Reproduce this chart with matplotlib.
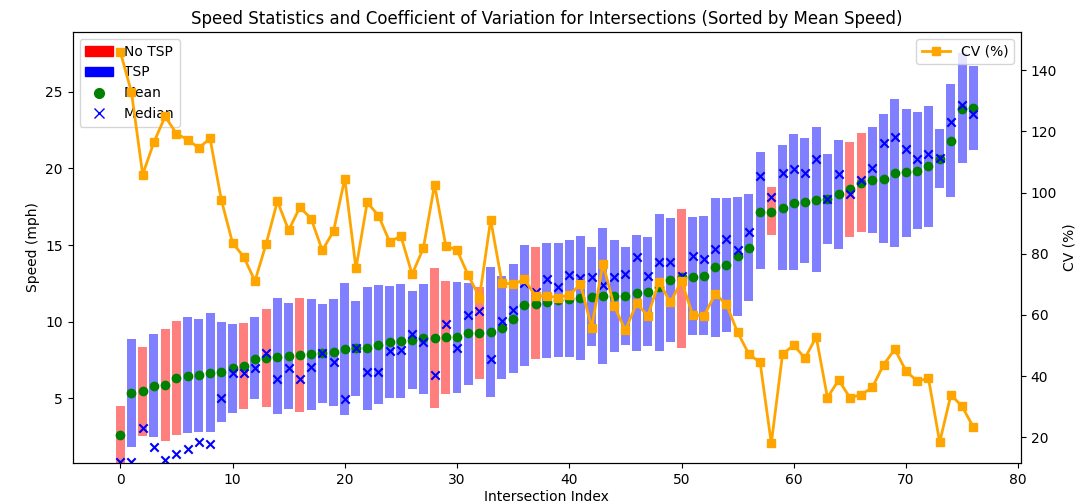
import matplotlib
matplotlib.use("Agg")
import matplotlib.pyplot as plt
from matplotlib.patches import Patch
from matplotlib.lines import Line2D
import numpy as np

# ---- data ----
mean_speed = [2.61, 5.33, 5.48, 5.81, 5.85, 6.31, 6.46, 6.50, 6.67, 6.69,
              7.00, 7.13, 7.59, 7.61, 7.72, 7.76, 7.83, 7.89, 7.94, 8.00,
              8.22, 8.26, 8.30, 8.48, 8.70, 8.74, 8.80, 8.91, 8.91, 8.98,
              8.98, 9.24, 9.28, 9.35, 9.61, 10.18, 11.09, 11.15, 11.27, 11.42,
              11.48, 11.52, 11.63, 11.68, 11.68, 11.68, 11.85, 11.96, 12.28, 12.72,
              12.90, 12.94, 13.00, 13.55, 13.70, 14.29, 14.83, 17.18, 17.18, 17.44,
              17.77, 17.83, 17.94, 18.00, 18.31, 18.64, 19.07, 19.24, 19.31, 19.68,
              19.79, 19.85, 20.16, 20.61, 21.81, 23.87, 23.96]
median_speed = [0.87, 0.87, 3.09, 1.85, 0.98, 1.37, 1.67, 2.17, 2.02, 5.00,
                6.67, 6.67, 6.96, 7.94, 6.24, 6.96, 6.24, 7.02, 7.94, 7.35,
                4.96, 8.30, 6.74, 6.74, 8.11, 8.15, 9.20, 8.70, 6.52, 9.85,
                8.30, 10.44, 10.70, 7.57, 10.05, 10.76, 12.50, 11.96, 12.76, 12.24,
                13.05, 12.87, 12.94, 12.39, 12.94, 13.09, 14.24, 12.98, 13.87, 13.87,
                12.98, 14.31, 14.07, 14.72, 15.39, 14.68, 15.83, 19.53, 18.16, 19.68,
                19.94, 19.68, 20.61, 18.00, 19.62, 18.31, 19.24, 20.05, 21.64, 22.07,
                21.29, 20.61, 20.94, 20.65, 23.03, 24.14, 23.55]
range_low = [0.60, 1.85, 2.54, 2.46, 2.24, 2.61, 2.72, 2.78, 2.78, 3.43,
             4.07, 4.31, 4.94, 4.46, 3.98, 4.33, 4.11, 4.26, 4.72, 4.50,
             3.91, 5.17, 4.26, 4.61, 5.04, 5.00, 5.59, 5.26, 4.35, 5.28,
             5.37, 5.87, 6.24, 5.11, 6.26, 6.67, 7.13, 7.55, 7.60, 7.72,
             7.72, 7.50, 8.41, 7.22, 8.00, 8.48, 8.11, 8.41, 8.09, 8.65,
             8.26, 9.13, 9.13, 9.02, 9.35, 10.39, 11.35, 13.42, 15.66, 13.37,
             13.37, 13.81, 13.22, 15.05, 14.74, 15.55, 15.87, 15.76, 15.11, 14.89,
             15.55, 16.05, 16.20, 18.74, 18.11, 20.33, 21.20]
range_high = [4.50, 8.87, 8.37, 9.18, 9.50, 10.07, 10.29, 10.18, 10.59, 9.96,
              9.85, 9.89, 10.29, 10.81, 11.57, 11.20, 11.57, 11.50, 11.13, 11.46,
              12.54, 11.35, 12.28, 12.39, 12.33, 12.46, 12.02, 12.43, 13.48, 12.65,
              12.61, 12.54, 12.28, 13.59, 13.00, 13.74, 15.00, 14.85, 15.11, 15.15,
              15.33, 15.59, 14.85, 16.09, 15.33, 14.89, 15.66, 15.55, 17.00, 16.74,
              17.35, 16.85, 16.89, 18.09, 18.05, 18.16, 18.33, 21.05, 18.81, 21.53,
              22.22, 21.96, 22.68, 20.94, 21.85, 21.70, 22.33, 22.72, 23.53, 24.51,
              23.87, 23.66, 24.09, 22.55, 25.51, 27.51, 26.70]
has_tsp = [0, 1, 0, 1, 0, 0, 1, 1, 1, 1,
           1, 0, 1, 0, 1, 1, 0, 1, 1, 1,
           1, 1, 1, 1, 1, 1, 1, 1, 0, 0,
           1, 1, 0, 1, 1, 1, 1, 0, 1, 1,
           1, 1, 1, 1, 1, 1, 1, 1, 1, 1,
           0, 1, 1, 1, 1, 1, 1, 1, 0, 1,
           1, 1, 1, 1, 1, 0, 0, 1, 1, 1,
           1, 1, 1, 1, 1, 1, 1]
cv_pct = [146.1, 132.8, 105.9, 116.5, 124.9, 119.3, 117.3, 114.6, 117.7, 97.7,
          83.6, 79.0, 71.1, 83.3, 97.2, 87.7, 95.2, 91.5, 81.1, 87.4,
          104.6, 75.2, 96.8, 92.5, 83.9, 85.8, 73.3, 81.8, 102.6, 82.6,
          81.2, 73.0, 65.7, 91.1, 70.6, 70.0, 71.6, 66.2, 66.2, 65.7,
          66.5, 70.0, 55.9, 76.8, 62.9, 55.0, 63.8, 59.7, 70.9, 64.1,
          71.1, 60.0, 59.7, 66.8, 63.5, 54.3, 47.2, 44.5, 18.0, 47.2,
          50.1, 45.9, 52.8, 33.0, 38.7, 33.0, 33.9, 36.3, 43.7, 48.8,
          41.7, 38.3, 39.3, 18.4, 33.9, 30.1, 23.3]

idx = np.arange(len(mean_speed))
low = np.array(range_low)
high = np.array(range_high)
colors = ['blue' if t else 'red' for t in has_tsp]

fig = plt.figure(figsize=(10.91, 5.04), dpi=100)
ax = fig.add_axes([0.0666, 0.0813, 0.8692, 0.8552])

ax.bar(idx, high - low, bottom=low, width=0.8, color=colors, alpha=0.5)
ax.scatter(idx, mean_speed, color='green', zorder=3, label='Mean')
ax.scatter(idx, median_speed, color='blue', marker='x', zorder=4, label='Median')
ax.set_ylim(0.78, 28.9)
ax.set_xlabel('Intersection Index', fontsize=10, labelpad=2)
ax.set_ylabel('Speed (mph)', fontsize=10)
ax.set_title('Speed Statistics and Coefficient of Variation for Intersections (Sorted by Mean Speed)',
             fontsize=12)

handles = [Patch(color='red', label='No TSP'),
           Patch(color='blue', label='TSP'),
           Line2D([], [], marker='o', color='green', linestyle='none', markersize=7, label='Mean'),
           Line2D([], [], marker='x', color='blue', linestyle='none', markersize=7, label='Median')]
ax.legend(handles=handles, loc='upper left', fontsize=10)

ax2 = ax.twinx()
ax2.plot(idx, cv_pct, color='orange', marker='s', linewidth=2, markersize=6, label='CV (%)')
ax2.set_ylabel('CV (%)', fontsize=10)
ax2.legend(loc='upper right', fontsize=10)

fig.savefig('out.png', dpi=100)
